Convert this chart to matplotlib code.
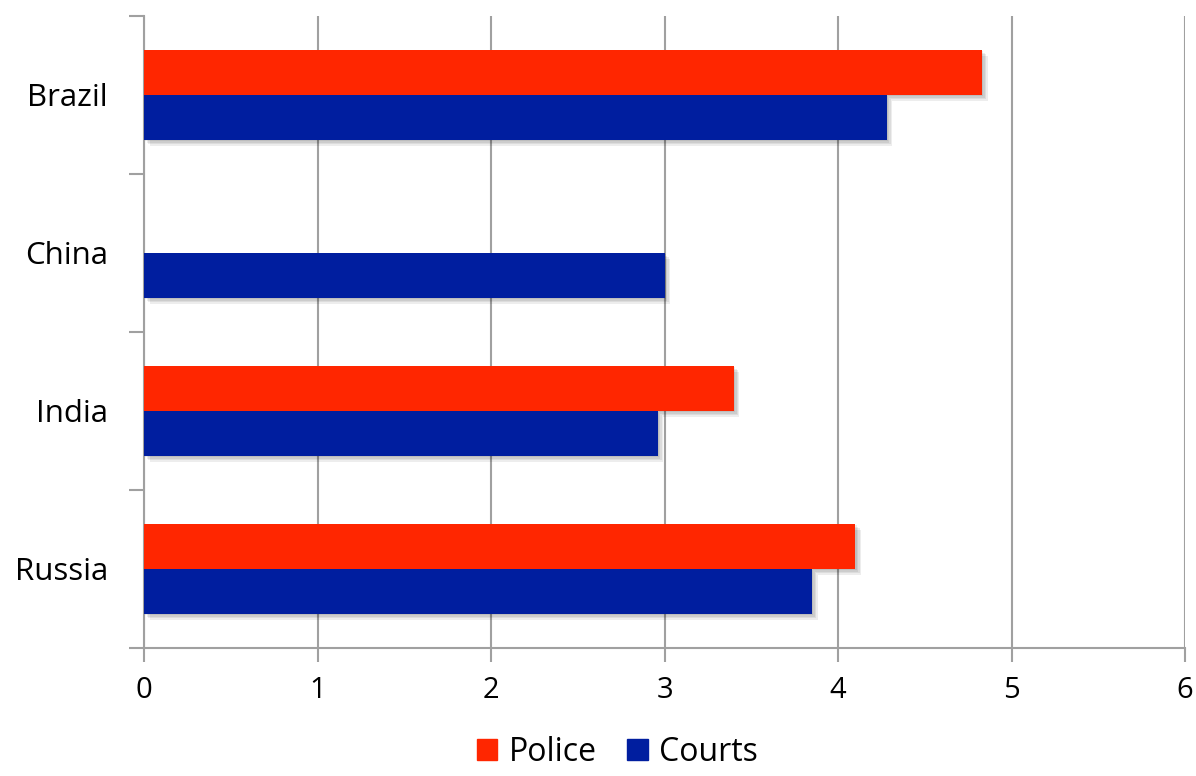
import matplotlib
matplotlib.use("Agg")
import matplotlib.pyplot as plt
import matplotlib.patheffects as pe
from matplotlib.patches import Patch
import numpy as np

plt.rcParams['font.family'] = ['Open Sans', 'DejaVu Sans']

countries = ["Brazil", "China", "India", "Russia"]
police = [4.83, 0.0, 3.40, 4.10]
courts = [4.28, 3.00, 2.96, 3.85]
x_ticks = [0, 1, 2, 3, 4, 5, 6]

red = "#FF2600"
blue = "#001E9F"
grey = "#A0A0A0"

fig = plt.figure(figsize=(11.96, 7.76), dpi=100)
ax = fig.add_axes([144 / 1196, 128 / 776, 1041 / 1196, 632 / 776])

# Brazil on top, Russia at the bottom
ypos = np.arange(len(countries))[::-1]
h = 0.285

# soft drop shadow under each bar
shadow = [pe.SimplePatchShadow(offset=(d, -d), shadow_rgbFace="black", alpha=0.07) for d in (1, 2, 3, 4)]
shadow.append(pe.Normal())

bp = ax.barh(ypos + h / 2, police, height=h, color=red, zorder=3)
bc = ax.barh(ypos - h / 2, courts, height=h, color=blue, zorder=3)
for b in list(bp) + list(bc):
    if b.get_width() > 0:
        b.set_path_effects(shadow)

ax.set_xlim(0, 6)
ax.set_ylim(-0.5, len(countries) - 0.5)

ax.set_xticks(x_ticks)
ax.tick_params(axis="x", length=10, width=1.5, color=grey, pad=10, labelsize=21)
ax.set_yticks(ypos)
ax.set_yticklabels(countries)
ax.tick_params(axis="y", which="major", length=0, pad=26, labelsize=22.5)
ax.set_yticks(np.arange(len(countries) + 1) - 0.5, minor=True)
ax.tick_params(axis="y", which="minor", length=11, width=1.5, color=grey)

ax.grid(axis="x", color=grey, linewidth=1.5, zorder=0)
ax.set_axisbelow(True)
for s in ("top", "right"):
    ax.spines[s].set_visible(False)
for s in ("left", "bottom"):
    ax.spines[s].set_color(grey)
    ax.spines[s].set_linewidth(1.5)

handles = [Patch(color=red), Patch(color=blue)]
fig.legend(handles=handles, labels=["Police", "Courts"], loc="lower center",
           bbox_to_anchor=(0.516, -0.028), ncol=2, frameon=False, fontsize=23,
           handlelength=0.65, handleheight=0.65, handletextpad=0.35, columnspacing=0.95)

fig.savefig("out.png", dpi=100)
